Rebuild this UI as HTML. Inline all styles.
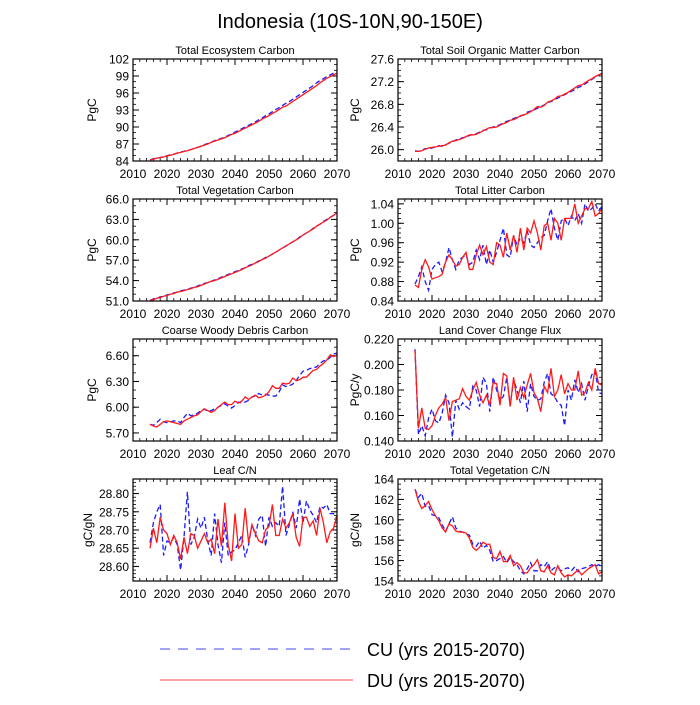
<!DOCTYPE html>
<html><head><meta charset="utf-8"><style>
body{margin:0;background:#fff;}
svg text{font-family:"Liberation Sans",sans-serif;fill:#000;}
</style></head><body>
<svg id="chart" width="700" height="700" viewBox="0 0 700 700" xmlns="http://www.w3.org/2000/svg">
<text x="350" y="28" font-size="20" text-anchor="middle">Indonesia (10S-10N,90-150E)</text>
<g id="panels"></g>
<g>
<line x1="160" y1="649" x2="353" y2="649" stroke="#6b6bff" stroke-width="1.2" stroke-dasharray="10,8"/>
<text x="367" y="656" font-size="18">CU (yrs 2015-2070)</text>
<line x1="160" y1="680" x2="353" y2="680" stroke="#ff6b6b" stroke-width="1.2"/>
<text x="367" y="687" font-size="18">DU (yrs 2015-2070)</text>
</g>
</svg>
<script>
const years=[2015,2016,2017,2018,2019,2020,2021,2022,2023,2024,2025,2026,2027,2028,2029,2030,2031,2032,2033,2034,2035,2036,2037,2038,2039,2040,2041,2042,2043,2044,2045,2046,2047,2048,2049,2050,2051,2052,2053,2054,2055,2056,2057,2058,2059,2060,2061,2062,2063,2064,2065,2066,2067,2068,2069,2070];
const xTicks=[2010,2020,2030,2040,2050,2060,2070];
const ecoDU=[84.2,84.3,84.5,84.6,84.7,84.9,85.0,85.2,85.4,85.5,85.7,85.8,86.0,86.2,86.4,86.6,86.8,87.0,87.3,87.5,87.7,87.9,88.1,88.4,88.7,88.9,89.2,89.5,89.8,90.1,90.4,90.7,91.0,91.4,91.7,92.0,92.4,92.7,93.1,93.5,93.7,94.1,94.5,94.9,95.3,95.7,96.1,96.5,96.9,97.3,97.8,98.2,98.6,98.9,99.2,99.5];
const ecoCU=[84.2,84.4,84.5,84.6,84.8,84.9,85.1,85.2,85.4,85.6,85.7,85.9,86.0,86.2,86.4,86.6,86.9,87.1,87.3,87.6,87.8,88.0,88.2,88.5,88.8,89.1,89.4,89.7,90.0,90.3,90.6,90.9,91.3,91.6,92.0,92.3,92.7,93.1,93.4,93.8,94.2,94.5,94.9,95.3,95.7,96.1,96.5,96.9,97.3,97.8,98.2,98.5,98.9,99.2,99.5,99.7];
const soilDU=[25.97,25.97,25.98,26.01,26.03,26.04,26.05,26.06,26.07,26.08,26.12,26.15,26.16,26.18,26.20,26.23,26.26,26.26,26.27,26.30,26.33,26.36,26.39,26.39,26.40,26.43,26.46,26.48,26.52,26.53,26.56,26.60,26.61,26.64,26.67,26.71,26.76,26.75,26.78,26.84,26.86,26.89,26.94,26.95,26.98,27.01,27.05,27.09,27.13,27.14,27.18,27.22,27.25,27.29,27.32,27.34];
const soilCU=[25.98,25.97,25.99,26.02,26.01,26.03,26.05,26.07,26.06,26.09,26.11,26.14,26.17,26.19,26.21,26.22,26.25,26.27,26.28,26.31,26.34,26.35,26.38,26.40,26.42,26.44,26.47,26.50,26.52,26.55,26.57,26.59,26.62,26.66,26.68,26.70,26.73,26.76,26.79,26.83,26.85,26.88,26.91,26.94,26.97,27.00,27.03,27.06,27.10,27.12,27.16,27.20,27.24,27.28,27.31,27.35];
const vegDU=[51.1,51.2,51.4,51.5,51.7,51.8,52.0,52.1,52.3,52.4,52.5,52.7,52.8,53.0,53.1,53.3,53.5,53.7,53.9,54.0,54.2,54.4,54.6,54.8,55.0,55.2,55.4,55.6,55.9,56.1,56.3,56.6,56.8,57.1,57.3,57.6,57.9,58.2,58.5,58.8,59.1,59.4,59.7,60.0,60.3,60.7,61.0,61.3,61.6,62.0,62.3,62.6,62.9,63.3,63.6,64.0];
const vegCU=[51.1,51.3,51.4,51.6,51.7,51.9,52.0,52.2,52.3,52.5,52.6,52.7,52.9,53.0,53.2,53.4,53.6,53.7,53.9,54.1,54.3,54.5,54.7,54.9,55.1,55.3,55.5,55.7,55.9,56.2,56.4,56.6,56.9,57.1,57.4,57.6,57.9,58.2,58.5,58.8,59.1,59.4,59.7,60.0,60.4,60.7,61.0,61.3,61.7,62.0,62.3,62.7,63.0,63.3,63.6,63.9];
const litDU=[0.873,0.868,0.905,0.925,0.91,0.885,0.888,0.89,0.895,0.92,0.935,0.925,0.912,0.915,0.93,0.94,0.905,0.905,0.935,0.955,0.935,0.952,0.92,0.915,0.96,0.955,0.93,0.98,0.945,0.975,0.94,0.99,0.945,0.99,0.98,1.005,0.98,0.945,0.995,1.0,0.965,1.01,1.0,0.965,1.01,1.01,1.01,1.04,1.0,1.015,1.03,1.03,1.045,1.015,1.02,1.03];
const litCU=[0.875,0.89,0.91,0.88,0.862,0.905,0.915,0.92,0.9,0.92,0.95,0.925,0.905,0.925,0.93,0.935,0.915,0.92,0.945,0.925,0.955,0.915,0.945,0.92,0.94,0.965,0.99,0.935,0.93,0.975,0.955,0.97,0.96,0.985,0.955,0.95,0.96,0.97,0.975,1.005,1.03,0.99,0.965,1.005,1.01,0.995,1.015,1.005,1.02,1.0,1.04,1.025,1.03,1.04,1.025,1.035];
const cwdDU=[5.80,5.78,5.77,5.80,5.83,5.84,5.83,5.82,5.81,5.80,5.84,5.86,5.88,5.90,5.91,5.95,5.98,5.96,5.94,5.96,6.00,6.03,6.06,6.03,6.03,6.07,6.05,6.07,6.12,6.09,6.12,6.14,6.11,6.12,6.14,6.18,6.25,6.22,6.22,6.28,6.27,6.28,6.34,6.31,6.32,6.35,6.35,6.39,6.43,6.44,6.48,6.51,6.55,6.61,6.59,6.61];
const cwdCU=[5.80,5.79,5.82,5.86,5.83,5.82,5.83,5.84,5.84,5.82,5.88,5.93,5.90,5.91,5.93,5.96,5.98,5.95,5.96,5.98,6.00,6.02,6.04,6.01,5.99,6.02,6.06,6.05,6.06,6.08,6.12,6.13,6.16,6.14,6.15,6.14,6.13,6.13,6.18,6.26,6.24,6.25,6.27,6.31,6.37,6.42,6.43,6.45,6.46,6.47,6.51,6.54,6.55,6.58,6.62,6.63];
const lccDU=[0.211,0.15,0.166,0.15,0.149,0.152,0.16,0.166,0.169,0.174,0.156,0.171,0.172,0.173,0.181,0.175,0.172,0.18,0.186,0.176,0.17,0.176,0.168,0.186,0.185,0.168,0.193,0.191,0.167,0.19,0.172,0.182,0.174,0.184,0.193,0.178,0.173,0.163,0.183,0.178,0.197,0.175,0.18,0.192,0.177,0.185,0.18,0.18,0.195,0.176,0.178,0.186,0.18,0.197,0.185,0.184];
const lccCU=[0.212,0.145,0.152,0.144,0.158,0.165,0.156,0.154,0.162,0.176,0.17,0.143,0.172,0.165,0.17,0.167,0.165,0.183,0.18,0.167,0.19,0.185,0.163,0.19,0.18,0.172,0.175,0.19,0.168,0.188,0.18,0.17,0.187,0.163,0.185,0.175,0.172,0.173,0.186,0.193,0.177,0.175,0.17,0.168,0.152,0.18,0.172,0.188,0.178,0.185,0.172,0.183,0.192,0.195,0.178,0.177];
const leafDU=[28.65,28.705,28.665,28.735,28.70,28.69,28.66,28.685,28.665,28.62,28.68,28.635,28.69,28.685,28.65,28.67,28.69,28.665,28.675,28.635,28.73,28.655,28.775,28.66,28.615,28.745,28.65,28.66,28.76,28.665,28.715,28.69,28.67,28.665,28.70,28.71,28.77,28.685,28.685,28.73,28.705,28.72,28.745,28.68,28.655,28.735,28.735,28.71,28.725,28.685,28.76,28.72,28.665,28.695,28.705,28.74];
const leafCU=[28.665,28.72,28.75,28.77,28.63,28.67,28.665,28.68,28.66,28.59,28.68,28.805,28.66,28.68,28.73,28.705,28.735,28.67,28.63,28.745,28.66,28.61,28.72,28.63,28.64,28.645,28.665,28.685,28.625,28.66,28.715,28.685,28.73,28.74,28.655,28.735,28.71,28.72,28.71,28.82,28.685,28.715,28.75,28.705,28.785,28.72,28.78,28.755,28.74,28.72,28.765,28.76,28.77,28.745,28.745,28.73];
const vcnDU=[163.0,161.8,161.1,161.4,161.8,161.0,160.4,159.9,159.2,158.8,159.6,159.4,158.9,158.8,158.8,158.7,158.2,157.3,157.0,157.3,157.8,157.6,157.6,156.3,156.2,156.9,155.9,155.9,156.5,155.5,155.8,155.5,154.8,154.8,155.3,155.6,156.1,155.0,154.9,155.5,154.8,154.6,155.5,154.8,154.4,154.6,154.5,154.8,155.1,154.6,154.9,155.2,155.4,155.6,154.7,154.9];
const vcnCU=[163.0,162.2,162.6,161.3,161.4,160.5,160.4,160.2,159.5,158.9,159.6,160.3,159.2,158.9,158.8,158.6,158.5,157.6,157.4,157.9,157.2,157.5,157.0,155.9,156.0,156.2,156.4,155.8,156.3,155.9,155.6,155.0,154.7,155.2,155.8,155.0,155.0,155.6,155.4,155.9,155.0,155.3,155.3,155.0,155.2,155.3,155.0,155.4,154.9,155.2,155.3,155.4,155.6,155.4,155.6,155.4];
const panelTitles=["Total Ecosystem Carbon","Total Soil Organic Matter Carbon","Total Vegetation Carbon","Total Litter Carbon","Coarse Woody Debris Carbon","Land Cover Change Flux","Leaf C/N","Total Vegetation C/N"];
const panelUnits=["PgC","PgC","PgC","PgC","PgC","PgC/y","gC/gN","gC/gN"];
const yTicks0=[84,87,90,93,96,99,102];
const yTicks1=[26.0,26.4,26.8,27.2,27.6];
const yTicks2=[51,54,57,60,63,66];
const yTicks3=[0.84,0.88,0.92,0.96,1.00,1.04];
const yTicks4=[5.70,6.00,6.30,6.60];
const yTicks5=[0.14,0.16,0.18,0.20,0.22];
const yTicks6=[28.60,28.65,28.70,28.75,28.80];
const yTicks7=[154,156,158,160,162,164];

const cfg=[
 {du:ecoDU,cu:ecoCU,ticks:yTicks0,min:84,max:102,dec:0,minor:1},
 {du:soilDU,cu:soilCU,ticks:yTicks1,min:25.8,max:27.6,dec:1,minor:0.1},
 {du:vegDU,cu:vegCU,ticks:yTicks2,min:51,max:66,dec:1,minor:1},
 {du:litDU,cu:litCU,ticks:yTicks3,min:0.84,max:1.05,dec:2,minor:0.01},
 {du:cwdDU,cu:cwdCU,ticks:yTicks4,min:5.606,max:6.795,dec:2,minor:0.1},
 {du:lccDU,cu:lccCU,ticks:yTicks5,min:0.14,max:0.22,dec:3,minor:0.005},
 {du:leafDU,cu:leafCU,ticks:yTicks6,min:28.56,max:28.84,dec:2,minor:0.01},
 {du:vcnDU,cu:vcnCU,ticks:yTicks7,min:154,max:164,dec:0,minor:0.5}
];
const NS="http://www.w3.org/2000/svg";
const root=document.getElementById('panels');
function mk(tag,attrs,parent){const e=document.createElementNS(NS,tag);for(const k in attrs)e.setAttribute(k,attrs[k]);parent.appendChild(e);return e;}
cfg.forEach((c,i)=>{
 const L=(i%2===0)?133:398, R=(i%2===0)?337:602;
 const T=59+Math.floor(i/2)*140, B=T+102;
 const g=mk('g',{},root);
 
 
 const xs=v=>L+(v-2010)/60*(R-L);
 const ys=v=>B-(v-c.min)/(c.max-c.min)*(B-T);
 const t=mk('text',{x:(L+R)/2,y:T-5,'font-size':11,'text-anchor':'middle'},g);
 t.textContent=panelTitles[i];
 
 
 const ux=(i===6)?92:((i%2===0)?96:359);
 const u=mk('text',{transform:`translate(${ux},${(T+B)/2}) rotate(-90)`,'font-size':12,'text-anchor':'middle'},g);
 u.textContent=panelUnits[i];
 
 
 const start=Math.ceil(c.min/c.minor-1e-6);
 for(let k=start;k*c.minor<=c.max+1e-9;k++){const v=k*c.minor,y=ys(v);
  mk('line',{x1:L,x2:L+3,y1:y,y2:y,stroke:'#000','stroke-width':0.8},g);
  mk('line',{x1:R,x2:R-3,y1:y,y2:y,stroke:'#000','stroke-width':0.8},g);}
 c.ticks.forEach(v=>{const y=ys(v);
  mk('line',{x1:L,x2:L+6,y1:y,y2:y,stroke:'#000','stroke-width':1},g);
  mk('line',{x1:R,x2:R-6,y1:y,y2:y,stroke:'#000','stroke-width':1},g);
  const tl=mk('text',{x:L-4,y:y+4.5,'font-size':12,'text-anchor':'end'},g);
  tl.textContent=v.toFixed(c.dec);
  
  });
 for(let yr=2010;yr<=2070;yr+=2){const x=xs(yr);
  mk('line',{x1:x,x2:x,y1:B,y2:B-3,stroke:'#000','stroke-width':0.8},g);
  mk('line',{x1:x,x2:x,y1:T,y2:T+3,stroke:'#000','stroke-width':0.8},g);}
 xTicks.forEach(yr=>{const x=xs(yr);
  mk('line',{x1:x,x2:x,y1:B,y2:B-6,stroke:'#000','stroke-width':1},g);
  mk('line',{x1:x,x2:x,y1:T,y2:T+6,stroke:'#000','stroke-width':1},g);
  const tl=mk('text',{x:x,y:B+17,'font-size':12,'text-anchor':'middle'},g);
  tl.textContent=yr;
  
  });
 const pc=mk('polyline',{points:years.map((y,j)=>xs(y)+','+ys(c.cu[j])).join(' '),fill:'none',stroke:'#1a1aff','stroke-width':1.3,'stroke-dasharray':'5,3'},g);
 
 
 const pd=mk('polyline',{points:years.map((y,j)=>xs(y)+','+ys(c.du[j])).join(' '),fill:'none',stroke:'#ff1a1a','stroke-width':1.3},g);
 
 
 const fr=mk('rect',{x:L,y:T,width:R-L,height:B-T,fill:'none',stroke:'#000','stroke-width':1.2},g);
 
 
});
</script>
</body></html>
